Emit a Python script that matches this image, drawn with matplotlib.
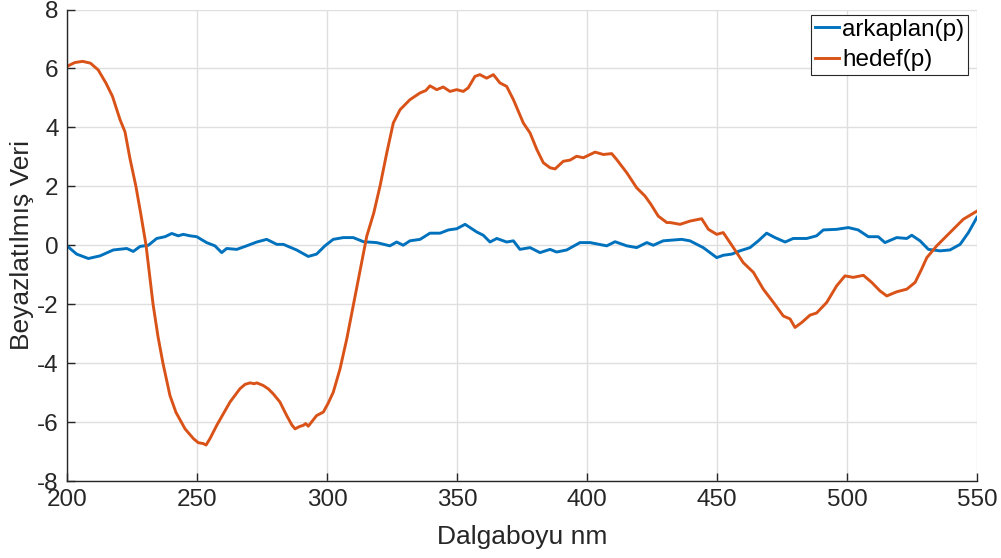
import matplotlib
matplotlib.use("Agg")
import matplotlib.pyplot as plt

plt.rcParams['font.family'] = ['Liberation Sans', 'DejaVu Sans']
plt.rcParams['axes.unicode_minus'] = False

# Target (hedef) whitened spectrum
hedef_wl = [200, 203, 206, 209, 212, 215, 217.5, 220.4, 222.3, 224.2, 226.5, 228.5, 230.4,
            231.9, 233.1, 235, 236.9, 239.6, 241.9, 245.4, 248.6, 250.5, 252.4, 253.5, 255,
            257.6, 260.1, 262.7, 266.5, 268.5, 270.4, 272, 273, 275.5, 277.5, 279.3, 281.9,
            284.5, 286.5, 287.7, 289.5, 290.9, 291.8, 292.8, 294.5, 296, 298.6, 300.5, 302.4,
            305, 307.6, 310.1, 312.7, 315.3, 318, 320.4, 323, 325.5, 328.1, 331.9, 335.8, 338,
            339.6, 342.2, 344.7, 347.3, 349.9, 352.4, 354.3, 356.9, 358.8, 361.4, 364, 366.5,
            369.1, 371.7, 375.5, 378.1, 380.7, 383.2, 385.8, 387.7, 390.9, 393.5, 396, 398.6,
            403.1, 406.3, 409.5, 411.4, 415.3, 419.1, 422.3, 424.5, 427.4, 430.7, 432, 435.8,
            439.6, 444.1, 446.7, 449.9, 452.4, 456.3, 460.1, 464, 467.8, 471.7, 475.5, 478.1,
            480, 482.6, 485.8, 488.3, 492.2, 496, 499.2, 502.4, 506.3, 509.5, 512.7, 515.3,
            519.1, 523, 526.2, 528.7, 530.7, 534.5, 539.6, 544.7, 550]
hedef_val = [6.07, 6.20, 6.24, 6.18, 5.95, 5.50, 5.05, 4.26, 3.85, 2.95, 2.0, 1.0, 0.0,
             -1.1, -2.0, -3.1, -4.0, -5.10, -5.67, -6.23, -6.56, -6.70, -6.73, -6.78, -6.56,
             -6.11, -5.72, -5.32, -4.87, -4.72, -4.67, -4.70, -4.67, -4.76, -4.88, -5.04, -5.32,
             -5.78, -6.10, -6.23, -6.15, -6.11, -6.05, -6.14, -5.95, -5.78, -5.66, -5.35, -4.99,
             -4.20, -3.18, -2.05, -0.86, 0.31, 1.1, 2.01, 3.14, 4.15, 4.60, 4.94, 5.17, 5.25,
             5.41, 5.28, 5.37, 5.22, 5.28, 5.22, 5.34, 5.73, 5.79, 5.67, 5.79, 5.51,
             5.39, 4.94, 4.15, 3.81, 3.25, 2.80, 2.63, 2.59, 2.85, 2.89, 3.02, 2.97,
             3.16, 3.08, 3.11, 2.91, 2.46, 1.95, 1.67, 1.40, 0.99, 0.77, 0.77, 0.71,
             0.82, 0.90, 0.54, 0.37, 0.43, -0.08, -0.59, -0.92, -1.49, -1.94, -2.40, -2.50,
             -2.79, -2.62, -2.37, -2.30, -1.94, -1.38, -1.04, -1.09, -1.02, -1.26, -1.55, -1.72,
             -1.58, -1.49, -1.26, -0.81, -0.42, -0.02, 0.43, 0.88, 1.16]

# Background (arkaplan) whitened spectrum
arka_wl = [200, 203.7, 208.2, 212.7, 217.8, 223, 225.5, 228.1, 231.3, 234.5, 237.7, 240.3,
           242.8, 244.7, 247.3, 249.9, 253.7, 256.9, 259.5, 261.4, 265.3, 269.1, 273, 276.8,
           280.7, 283.2, 288.3, 292.8, 296, 299.2, 302.4, 306.3, 310.1, 314, 319.1, 324.2,
           326.8, 329.3, 331.9, 335.8, 339.6, 343.5, 346.7, 349.9, 353.1, 357.6, 360.1, 362.7,
           365.3, 369.1, 371.7, 374.2, 378.1, 381.9, 385.8, 388.3, 392.2, 397.3, 401.2, 407.6,
           410.8, 415.3, 419.1, 423, 425.5, 429.3, 432, 436.4, 439.6, 444.7, 449.9, 452.4,
           455.7, 458.8, 462.7, 465.9, 469.1, 472.3, 476.2, 479.3, 484.5, 488.3, 490.9, 496,
           500.5, 504.3, 508.2, 512, 514.6, 519.1, 523, 524.9, 528.1, 531.3, 535.8, 539.6,
           543.5, 546.7, 550]
arka_val = [-0.02, -0.30, -0.45, -0.36, -0.16, -0.11, -0.21, -0.04, 0.0, 0.23, 0.29, 0.40,
            0.32, 0.37, 0.32, 0.29, 0.09, -0.02, -0.25, -0.11, -0.14, -0.02, 0.11, 0.20,
            0.03, 0.03, -0.16, -0.38, -0.30, -0.02, 0.20, 0.26, 0.26, 0.12, 0.09, -0.02,
            0.11, 0.0, 0.15, 0.20, 0.41, 0.41, 0.52, 0.56, 0.71, 0.45, 0.34, 0.11,
            0.23, 0.11, 0.15, -0.14, -0.08, -0.25, -0.14, -0.23, -0.16, 0.09, 0.09, -0.02,
            0.12, -0.02, -0.08, 0.09, 0.0, 0.15, 0.17, 0.20, 0.15, -0.08, -0.42, -0.34,
            -0.30, -0.19, -0.08, 0.15, 0.41, 0.26, 0.11, 0.23, 0.23, 0.32, 0.52, 0.54,
            0.60, 0.52, 0.29, 0.29, 0.09, 0.26, 0.23, 0.34, 0.15, -0.14, -0.19, -0.16,
            0.03, 0.43, 0.95]

x_ticks = [200, 250, 300, 350, 400, 450, 500, 550]
y_ticks = [-8, -6, -4, -2, 0, 2, 4, 6, 8]

text_color = '#262626'
fig = plt.figure(figsize=(10.01, 5.58), dpi=100)
ax = fig.add_axes([67 / 1001, 1 - 481 / 558, (977 - 67) / 1001, (481 - 9.5) / 558])

ax.plot(arka_wl, arka_val, color='#0072BD', lw=2.1, label='arkaplan(p)')
ax.plot(hedef_wl, hedef_val, color='#D95319', lw=2.1, label='hedef(p)')

ax.set_xlim(200, 550)
ax.set_ylim(-8, 8)
ax.set_xticks(x_ticks)
ax.set_yticks(y_ticks)
ax.grid(True, color='#DFDFDF', lw=1.0)
ax.set_axisbelow(True)

for side in ('top', 'right'):
    ax.spines[side].set_visible(False)
for side in ('left', 'bottom'):
    ax.spines[side].set_color(text_color)
    ax.spines[side].set_linewidth(1.0)

ax.tick_params(direction='in', length=6, width=1.0, colors=text_color,
               labelsize=17.5, labelcolor=text_color)
ax.tick_params(axis='x', pad=6)
ax.tick_params(axis='y', pad=6)

ax.set_xlabel('Dalgaboyu nm', fontsize=19, color=text_color, labelpad=10)
ax.set_ylabel('Beyazlatılmış Veri', fontsize=19, color=text_color, labelpad=2)

leg = ax.legend(loc='upper right', bbox_to_anchor=(968 / 1001, 1 - 15 / 558),
                bbox_transform=fig.transFigure, borderaxespad=0,
                fontsize=17.5, handlelength=1.0, handletextpad=0.12,
                labelspacing=0.35, borderpad=0.15, fancybox=False, framealpha=1)
leg.get_frame().set_edgecolor(text_color)
leg.get_frame().set_linewidth(0.8)
for t in leg.get_texts():
    t.set_color('#000000')

fig.savefig('out.png', dpi=100)
